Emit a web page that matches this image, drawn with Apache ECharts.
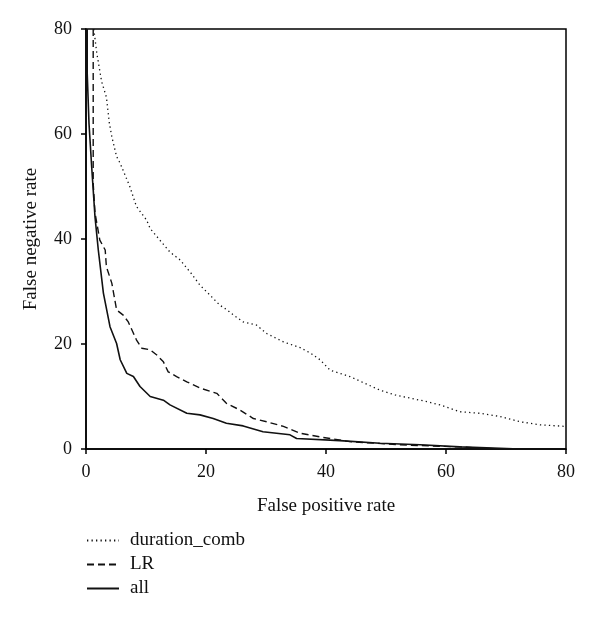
<!DOCTYPE html>
<html><head><meta charset="utf-8">
<script src="https://cdn.jsdelivr.net/npm/echarts@6/dist/echarts.min.js"></script>
<style>html,body{margin:0;padding:0;background:#fff}#c{width:600px;height:617px}</style>
</head><body><div id="c"></div>
<script>
const seriesNames = ['duration_comb', 'LR', 'all'];
const xTicks = [0, 20, 40, 60, 80];
const yTicks = [0, 20, 40, 60, 80];

const durationComb = [[1.3,80],[1.8,75.4],[2.6,70],[3.4,67],[3.9,62],[4.3,59.5],[5.1,55.7],[5.7,54.4],[7.3,50],[8.4,46.2],[10.1,43.6],[10.7,42],[12.3,39.8],[14,37.5],[15.7,36],[17.5,33.5],[19,31.2],[20.5,29.5],[22.3,27.4],[23.5,26.5],[24.6,25.5],[26.2,24.2],[28.4,23.6],[30.1,22],[32.9,20.4],[35.7,19.3],[37.5,18.2],[39,17],[40.7,15],[44,13.8],[46.5,12.5],[49,11.2],[51.5,10.3],[54,9.7],[56.5,9.1],[59,8.4],[62.3,7.1],[65.7,6.8],[69,6.2],[72.3,5.2],[75.7,4.6],[80,4.3]];
const lrData = [[1.2,80],[1.2,66.5],[1.2,50.6],[1.5,45],[2.3,39.8],[3.2,37.9],[3.4,34.7],[4.3,31.6],[5.1,26.5],[6.2,25.5],[7.05,24.2],[8.4,20.8],[9.3,19.2],[10.7,18.9],[11.8,17.9],[12.9,16.6],[13.7,14.7],[15.1,13.8],[16.8,12.8],[19,11.6],[21.8,10.6],[23.4,8.7],[25.7,7.4],[27.9,5.8],[30.1,5.2],[32.9,4.3],[35.7,3],[39,2.3],[44,1.4],[52.3,0.8],[62.3,0.4],[69,0]];
const allData = [[0.2,80],[0.2,71.6],[0.5,62],[0.95,53.7],[1.5,44.2],[2.05,37.9],[2.9,29.7],[4,23.3],[5.1,20.1],[5.7,17],[6.8,14.4],[7.9,13.8],[9,11.9],[10.7,10],[12.9,9.3],[14,8.4],[16.8,6.8],[19,6.5],[21.2,5.8],[23.4,4.9],[26.2,4.4],[29.5,3.3],[34,2.7],[35.1,2],[42.3,1.6],[49,1.1],[55.7,0.8],[62.3,0.4],[72.3,0]];

const FONT = 'Liberation Serif';
const chart = echarts.init(document.getElementById('c'));
const axisCommon = {
  type: 'value', min: 0, max: 80, interval: 20,
  axisLine: {show: true, onZero: false, lineStyle: {color: '#000', width: 1.5}},
  axisTick: {show: true, length: 5, lineStyle: {color: '#000', width: 1.5}},
  splitLine: {show: false},
  axisLabel: {color: '#111', fontFamily: FONT, fontSize: 18, margin: 14},
  nameLocation: 'middle',
  nameTextStyle: {color: '#111', fontFamily: FONT, fontSize: 19}
};
chart.setOption({
  animation: false,
  color: ['#111', '#111', '#111'],
  grid: {left: 86, right: 34, top: 29, bottom: 168, show: true, borderColor: '#000', borderWidth: 1.5, containLabel: false},
  xAxis: Object.assign({}, axisCommon, {name: 'False positive rate', nameGap: 48}),
  yAxis: Object.assign({}, axisCommon, {name: 'False negative rate', nameGap: 45}),
  legend: {
    orient: 'vertical', left: 81, top: 526, itemWidth: 32, itemHeight: 14, itemGap: 5,
    itemStyle: {opacity: 0},
    textStyle: {color: '#111', fontFamily: FONT, fontSize: 19, padding: [0, 0, 0, 6]},
    data: seriesNames
  },
  series: [
    {name: seriesNames[0], type: 'line', data: durationComb, showSymbol: false, symbol: 'none', clip: true,
     itemStyle: {color: '#111'},
     lineStyle: {color: '#111', width: 1.3, type: [1.3, 3.2]}},
    {name: seriesNames[1], type: 'line', data: lrData, showSymbol: false, symbol: 'none', clip: true,
     itemStyle: {color: '#111'},
     lineStyle: {color: '#111', width: 1.4, type: [7, 4]}},
    {name: seriesNames[2], type: 'line', data: allData, showSymbol: false, symbol: 'none', clip: true,
     itemStyle: {color: '#111'},
     lineStyle: {color: '#111', width: 1.6, type: 'solid'}}
  ]
});
</script></body></html>
